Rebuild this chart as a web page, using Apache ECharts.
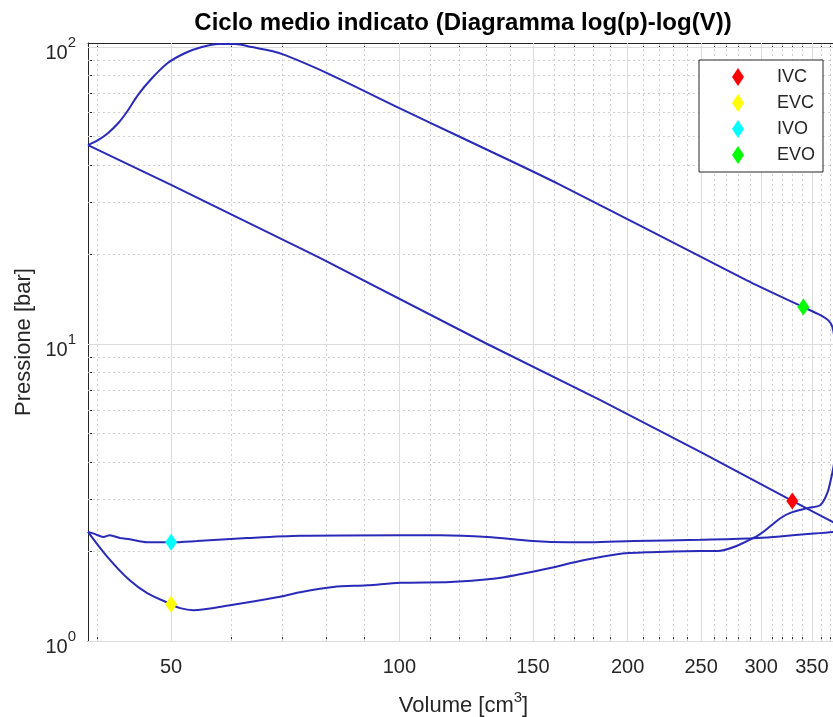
<!DOCTYPE html>
<html><head><meta charset="utf-8">
<script src="https://cdn.jsdelivr.net/npm/echarts@6/dist/echarts.min.js"></script>
<style>html,body{margin:0;padding:0;background:#fff;overflow:hidden}#c{width:833px;height:717px}</style>
</head><body><div id="c"></div>
<script>
// ---- data (volume cm^3, pressure bar) ----
const compV = [377.8, 329.8, 249.4, 184.1, 129.8, 78.2, 50.0, 38.85];
const compP = [2.47, 2.96, 4.33, 6.47, 10.07, 19.6, 34.3, 46.7];

const expV = [38.85, 40.1, 41.3, 42.6, 43.9, 45.2, 47.2, 49.5, 52.2, 54.9, 57.7, 60.7, 63.9, 67.9, 70.7, 80.3, 100.0, 120.3, 163.0, 286.8, 341.0, 359.1, 367.9, 372.4, 375.0, 377.2, 378.0, 377.5, 376.0, 373.6];
const expP = [46.7, 48.6, 51.3, 55.4, 61.3, 68.8, 78.5, 88.2, 95.3, 99.8, 102.2, 102.2, 99.8, 96.8, 93.8, 81.6, 62.2, 49.7, 34.3, 16.4, 13.3, 12.5, 12.0, 11.4, 10.3, 8.5, 6.5, 5.0, 4.3, 3.85];

const exhV = [373.6, 371.3, 366.8, 359.1, 345.2, 327.8, 318.0, 296.6, 262.6, 249.4, 214.2, 193.8, 174.8, 158.1, 143.0, 133.0, 116.7, 100.3, 90.7, 81.8, 74.0, 69.6, 59.8, 53.5, 51.4, 50.0, 46.5, 44.1, 41.2, 38.85];
const exhP = [3.85, 3.56, 3.15, 2.87, 2.80, 2.70, 2.59, 2.26, 2.01, 2.01, 1.99, 1.96, 1.87, 1.76, 1.67, 1.62, 1.58, 1.57, 1.54, 1.52, 1.46, 1.41, 1.32, 1.27, 1.29, 1.33, 1.45, 1.60, 1.92, 2.33];

const intV = [38.85, 39.7, 40.7, 41.5, 42.8, 44.1, 46.5, 50.0, 54.1, 63.0, 74.0, 100.3, 113.2, 130.6, 150.1, 166.6, 178.6, 203.5, 249.4, 296.6, 373.6, 378.0];
const intP = [2.33, 2.29, 2.24, 2.27, 2.22, 2.20, 2.15, 2.15, 2.17, 2.22, 2.26, 2.27, 2.27, 2.24, 2.17, 2.15, 2.15, 2.17, 2.19, 2.22, 2.33, 2.34];

const markerNames = ['IVC', 'EVC', 'IVO', 'EVO'];
const markerV = [329.8, 50.0, 50.0, 341.0];
const markerP = [2.96, 1.33, 2.15, 13.3];
const markerColors = ['#ff0000', '#ffff00', '#00ffff', '#00ff00'];

const xMajorTicks = [50, 100, 150, 200, 250, 300, 350];
const xMinorTicks = [40, 60, 70, 80, 90, 110, 120, 130, 140, 160, 170, 180, 190, 210, 220, 230, 240, 260, 270, 280, 290, 310, 320, 330, 340, 360, 370];
const yMajorTicks = [1, 10, 100];
const yMinorTicks = [2, 3, 4, 5, 6, 7, 8, 9, 20, 30, 40, 50, 60, 70, 80, 90];

const titleText = 'Ciclo medio indicato (Diagramma log(p)-log(V))';
const xName = '{b|Volume [cm}{s|3}{b|]}';
const yName = 'Pressione [bar]';

// ---- styling ----
const FONT = "'Liberation Sans', Arial, Helvetica, sans-serif";
const TXT = '#262626';
const X_MIN = 38.85, X_MAX = 380, Y_MIN = 1, Y_MAX = 103;
const CURVE = {color: '#2a2ab8', width: 2};

function pairs(a, b) { return a.map((v, i) => [v, b[i]]); }

function xAx(pos, ticks, len, extra) {
  return Object.assign({
    type: 'log', logBase: 10, min: X_MIN, max: X_MAX, position: pos, gridIndex: 0,
    splitLine: {show: false}, minorTick: {show: false}, minorSplitLine: {show: false},
    axisLine: {show: false, onZero: false},
    axisTick: {show: true, inside: true, length: len, customValues: ticks, lineStyle: {color: TXT, width: 1}},
    axisLabel: {show: false}
  }, extra || {});
}
function yAx(pos, ticks, len, extra) {
  return Object.assign({
    type: 'log', logBase: 10, min: Y_MIN, max: Y_MAX, position: pos, gridIndex: 0,
    splitLine: {show: false}, minorTick: {show: false}, minorSplitLine: {show: false},
    axisLine: {show: false, onZero: false},
    axisTick: {show: true, inside: true, length: len, customValues: ticks, lineStyle: {color: TXT, width: 1}},
    axisLabel: {show: false}
  }, extra || {});
}

const gridLines = [];
xMinorTicks.forEach(v => gridLines.push({xAxis: v, lineStyle: {color: '#cfcfcf', width: 1, type: [2, 3]}}));
yMinorTicks.forEach(v => gridLines.push({yAxis: v, lineStyle: {color: '#cfcfcf', width: 1, type: [2, 3]}}));
xMajorTicks.forEach(v => gridLines.push({xAxis: v, lineStyle: {color: '#dcdcdc', width: 1, type: 'solid'}}));
yMajorTicks.forEach(v => gridLines.push({yAxis: v, lineStyle: {color: '#dcdcdc', width: 1, type: 'solid'}}));

const series = [
  {type: 'line', name: 'grid', data: [[50, 2]], showSymbol: false, symbol: 'none', lineStyle: {width: 0},
   silent: true, z: 1,
   markLine: {silent: true, z: 1, symbol: ['none', 'none'], label: {show: false}, animation: false, data: gridLines}}
];
[[compV, compP, 0], [expV, expP, 0.3], [exhV, exhP, 0.3], [intV, intP, 0.3]].forEach(([v, p, s]) => {
  series.push({type: 'line', data: pairs(v, p), showSymbol: false, symbol: 'none', smooth: s, lineStyle: CURVE, z: 3, silent: true});
});
markerNames.forEach((n, i) => {
  series.push({type: 'scatter', name: n, data: [[markerV[i], markerP[i]]], symbol: 'diamond', symbolSize: [12, 17],
    itemStyle: {color: markerColors[i], opacity: 1}, z: 5});
});

const option = {
  animation: false,
  backgroundColor: '#ffffff',
  textStyle: {fontFamily: FONT},
  title: {text: titleText, left: 458, top: 6, textAlign: 'center',
    textStyle: {fontSize: 24, fontWeight: 'bold', color: '#000', fontFamily: FONT}},
  grid: {left: 88, top: 43, width: 751, height: 598, containLabel: false, outerBoundsMode: 'none'},
  legend: {
    data: markerNames, orient: 'vertical', left: 699, top: 60,
    padding: [8, 8, 8, 33], itemWidth: 12, itemHeight: 18, itemGap: 8,
    borderColor: TXT, borderWidth: 1, backgroundColor: '#fff', icon: 'diamond',
    textStyle: {fontSize: 18, color: TXT, fontFamily: FONT, lineHeight: 18, padding: [0, 0, 0, 28]}
  },
  xAxis: [
    xAx('bottom', xMajorTicks, 7, {
      axisLine: {show: true, onZero: false, lineStyle: {color: TXT, width: 1}},
      axisLabel: {show: true, customValues: xMajorTicks, fontSize: 20, color: TXT, fontFamily: FONT, margin: 16,
        formatter: v => String(Math.round(v))},
      name: xName, nameLocation: 'middle', nameGap: 54,
      nameTextStyle: {color: TXT, fontFamily: FONT, rich: {
        b: {fontSize: 22, lineHeight: 22, color: TXT, fontFamily: FONT, verticalAlign: 'bottom'},
        s: {fontSize: 15, lineHeight: 15, color: TXT, fontFamily: FONT, verticalAlign: 'bottom', padding: [0, 0, 12, 0]}
      }}
    }),
    xAx('bottom', xMinorTicks, 4),
    xAx('top', xMajorTicks, 7, {axisLine: {show: true, onZero: false, lineStyle: {color: TXT, width: 1}}}),
    xAx('top', xMinorTicks, 4)
  ],
  yAxis: [
    yAx('left', yMajorTicks, 7, {
      axisLine: {show: true, onZero: false, lineStyle: {color: TXT, width: 1}},
      axisLabel: {show: true, customValues: yMajorTicks, color: TXT, fontFamily: FONT, margin: 12,
        padding: [13, 0, 0, 0],
        formatter: v => {
          const l = Math.log10(v), e = Math.round(l);
          if (Math.abs(l - e) > 1e-6) return '';
          return '{b|10}{s|' + e + '}';
        },
        rich: {
          b: {fontSize: 20, lineHeight: 20, color: TXT, fontFamily: FONT, verticalAlign: 'bottom'},
          s: {fontSize: 15, lineHeight: 15, color: TXT, fontFamily: FONT, verticalAlign: 'bottom', padding: [0, 0, 13, 0]}
        }},
      name: yName, nameLocation: 'middle', nameGap: 48,
      nameTextStyle: {fontSize: 22, color: TXT, fontFamily: FONT}
    }),
    yAx('left', yMinorTicks, 4)
  ],
  series: series
};
const chart = echarts.init(document.getElementById('c'), null, {renderer: 'canvas'});
chart.setOption(option);
</script>
</body></html>
